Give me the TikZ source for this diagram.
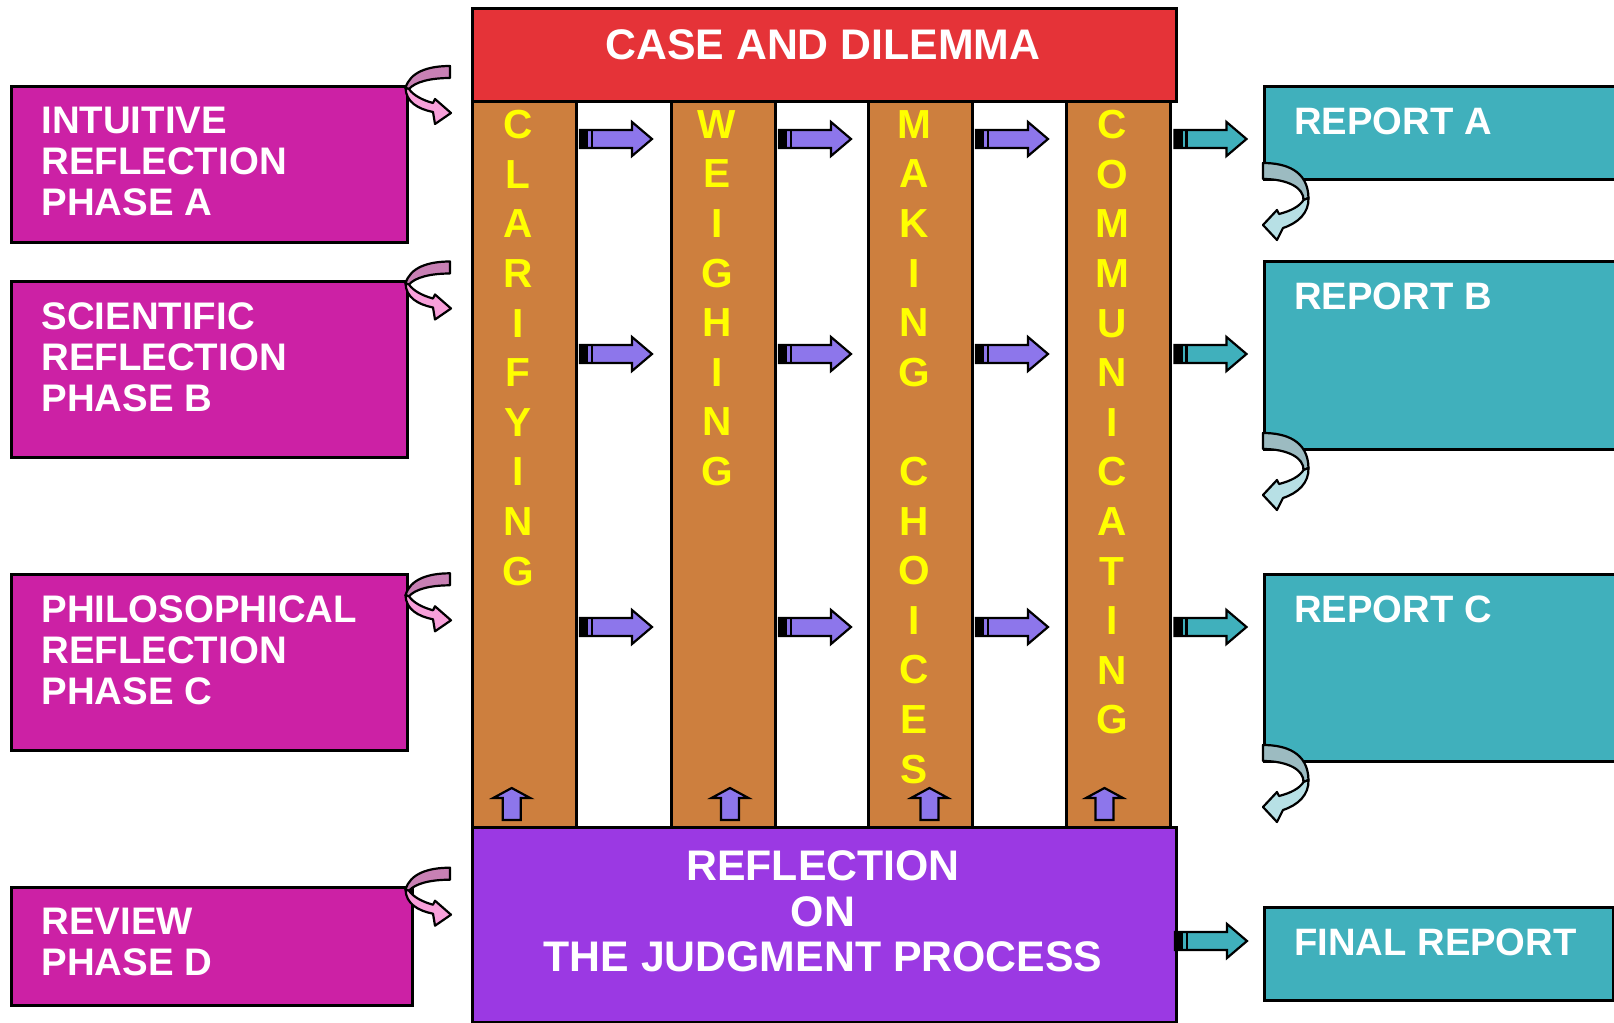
\documentclass[tikz,border=0pt]{standalone}
\usepackage{fontspec}
\setmainfont{Liberation Sans}
\definecolor{magentabox}{RGB}{204,33,165}
\definecolor{tealbox}{RGB}{64,176,188}
\definecolor{redbox}{RGB}{229,51,56}
\definecolor{orangecol}{RGB}{205,127,62}
\definecolor{purplebox}{RGB}{155,57,227}
\definecolor{arrowpurple}{RGB}{141,118,235}
\definecolor{pinkdark}{RGB}{200,128,180}
\definecolor{pinklight}{RGB}{248,160,218}
\definecolor{tealdark}{RGB}{156,187,193}
\definecolor{teallight}{RGB}{183,224,229}
\definecolor{lettery}{RGB}{255,255,0}
\tikzset{
  boxline/.style={draw=black, line width=1.4pt},
  lbox/.style={boxline, fill=magentabox, rectangle, inner sep=0, anchor=north west},
  rbox/.style={boxline, fill=tealbox, rectangle, inner sep=0, anchor=north west},
  colbox/.style={boxline, fill=orangecol, rectangle, inner sep=0, anchor=north west, minimum width=52pt, minimum height=363pt},
  lefttxt/.style={text=white, font=\bfseries\fontsize{19.2}{20.5}\selectfont, align=left, inner sep=0, anchor=north west},
  reptxt/.style={text=white, font=\bfseries\fontsize{19.1}{22}\selectfont, inner sep=0, anchor=west},
  titletxt/.style={text=white, font=\bfseries\fontsize{21.4}{22.85}\selectfont, align=center, inner sep=0},
  coltxt/.style={text=lettery, font=\bfseries\fontsize{20.3}{24.8}\selectfont, align=center, inner sep=0, anchor=north},
  arrowline/.style={draw=black, line width=1.1pt},
  curlline/.style={draw=black, line width=1.1pt, line join=round},
  pics/stripearrow/.style={code={
    \filldraw[arrowline, fill=#1] (0,-9) -- (52,-9) -- (52,-17) -- (72,0) -- (52,17) -- (52,9) -- (0,9) -- cycle;
    \fill[black] (0,-9.5) rectangle (8,9.5);
    \fill[black] (10.5,-9.5) rectangle (13,9.5);
  }},
  pics/uparrow/.style={code={
    \filldraw[arrowline, fill=arrowpurple] (-9,0) -- (-9,-22) -- (-18.5,-22) -- (0,-32) -- (18.5,-22) -- (9,-22) -- (9,0) -- cycle;
  }},
  pics/leftcurl/.style={code={
    \filldraw[curlline, fill=pinkdark] (0,0) .. controls (-22,0) and (-40,6) .. (-44.5,22) -- (-41,23) .. controls (-35,16) and (-20,12) .. (0,12) -- cycle;
    \filldraw[curlline, fill=pinklight] (-44.5,22) .. controls (-44,36) and (-32,43) .. (-17,46) -- (-15,58) -- (1,47) -- (-15,33) -- (-17,37) .. controls (-28,34) and (-37,29) .. (-41,23) -- cycle;
  }},
  pics/rightcurl/.style={code={
    \filldraw[curlline, fill=tealdark] (0,-15) .. controls (22,-15) and (45,-8) .. (45.5,20) -- (40.5,22) .. controls (41,10) and (25,1) .. (0,1) -- cycle;
    \filldraw[curlline, fill=teallight] (45.5,20) .. controls (46,35) and (35,45) .. (20,50) -- (14,62) -- (0,47) -- (14,32) -- (16,36) .. controls (28,33) and (37,28) .. (40.5,22) -- cycle;
  }}
}
\begin{document}
\begin{tikzpicture}[x=0.5pt,y=-0.5pt]
\useasboundingbox (0,0) rectangle (1614,1023);
\clip (0,0) rectangle (1614,1023);
\fill[white] (0,0) rectangle (1614,1023);

% left boxes
\node[lbox, minimum width=198pt, minimum height=78pt] (ia) at (10,85) {};
\node[lbox, minimum width=198pt, minimum height=88pt] (sb) at (10,280) {};
\node[lbox, minimum width=198pt, minimum height=88pt] (pc) at (10,573) {};
\node[lbox, minimum width=200.5pt, minimum height=59pt] (rd) at (10,886) {};
\node[lefttxt] (tia) at (41,107) {INTUITIVE\\REFLECTION\\PHASE A};
\node[lefttxt] (tsb) at (41,302) {SCIENTIFIC\\REFLECTION\\PHASE B};
\node[lefttxt] (tpc) at (41,595) {PHILOSOPHICAL\\REFLECTION\\PHASE C};
\node[lefttxt] (trd) at (41,908) {REVIEW\\PHASE D};

% right boxes
\node[rbox, minimum width=183.5pt, minimum height=46.5pt] (ra) at (1263,85) {};
\node[rbox, minimum width=183.5pt, minimum height=94pt] (rb) at (1263,260) {};
\node[rbox, minimum width=183.5pt, minimum height=93.5pt] (rc) at (1263,573) {};
\node[rbox, minimum width=174.5pt, minimum height=46.5pt] (fr) at (1263,906) {};
\node[reptxt] (tra) at (1294,121) {REPORT A};
\node[reptxt] (trb) at (1294,296) {REPORT B};
\node[reptxt] (trc) at (1294,609) {REPORT C};
\node[reptxt] (tfr) at (1294,942) {FINAL REPORT};

% columns
\node[colbox] (c1) at (471,100) {};
\node[colbox] (c2) at (670,100) {};
\node[colbox] (c3) at (867,100) {};
\node[colbox] (c4) at (1065,100) {};
\node[coltxt] (t1) at (518,110) {C\\L\\A\\R\\I\\F\\Y\\I\\N\\G};
\node[coltxt] (t2) at (717,110) {W\\E\\I\\G\\H\\I\\N\\G};
\node[coltxt] (t3) at (914,110) {M\\A\\K\\I\\N\\G\\\mbox{}\\C\\H\\O\\I\\C\\E\\S};
\node[coltxt] (t4) at (1112,110) {C\\O\\M\\M\\U\\N\\I\\C\\A\\T\\I\\N\\G};

% top and bottom boxes
\node[boxline, fill=redbox, rectangle, inner sep=0, anchor=north west, minimum width=352pt, minimum height=46.5pt] (case) at (471,7) {};
\node[titletxt] (tcase) at (823,44.3) {CASE AND DILEMMA};
\node[boxline, fill=purplebox, rectangle, inner sep=0, anchor=north west, minimum width=352pt, minimum height=97.5pt] (refl) at (471,826) {};
\node[titletxt] (trefl) at (823,911.3) {REFLECTION\\ON\\THE JUDGMENT PROCESS};

% horizontal striped arrows
\foreach \yy in {139,354,627}{
  \pic at (580,\yy) {stripearrow=arrowpurple};
  \pic at (779,\yy) {stripearrow=arrowpurple};
  \pic at (976,\yy) {stripearrow=arrowpurple};
  \pic at (1174.5,\yy) {stripearrow=tealbox};
}
\pic at (1175,941) {stripearrow=tealbox};

% up arrows
\pic at (511.7,820) {uparrow};
\pic at (730,820) {uparrow};
\pic at (929.5,820) {uparrow};
\pic at (1104.5,820) {uparrow};

% curls
\pic at (450,66) {leftcurl};
\pic at (450,261.5) {leftcurl};
\pic at (450,573.3) {leftcurl};
\pic at (450,867.7) {leftcurl};
\pic at (1263,178) {rightcurl};
\pic at (1263,448) {rightcurl};
\pic at (1263,760) {rightcurl};
\end{tikzpicture}
\end{document}
